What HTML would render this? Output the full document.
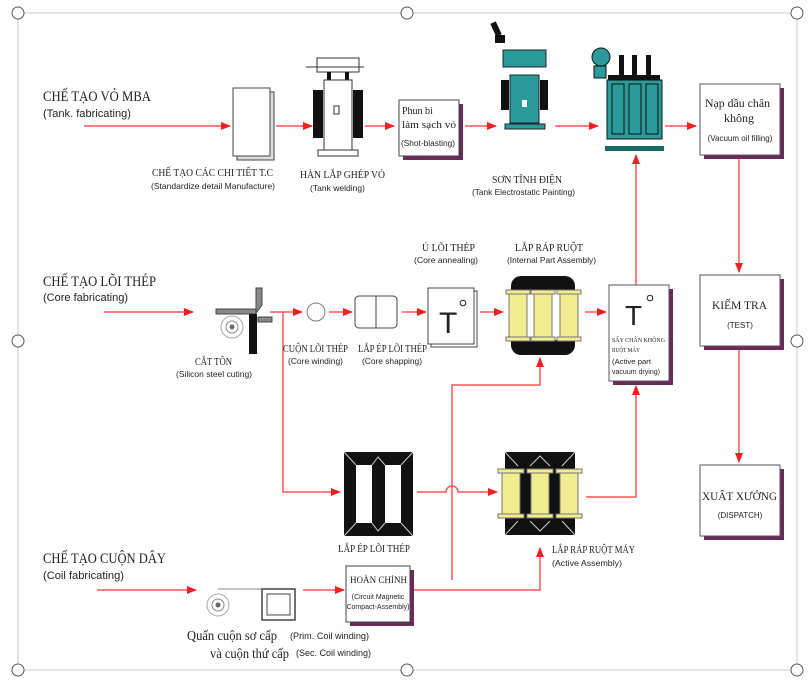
<!DOCTYPE html>
<html><head><meta charset="utf-8"><style>
html,body{margin:0;padding:0;background:#fff;}
svg{display:block;}
.s{font-family:"Liberation Serif","Noto Serif CJK SC",serif;fill:#222;}
.a{font-family:"Liberation Sans","Noto Sans CJK SC",sans-serif;fill:#222;}
</style></head><body>
<svg width="812" height="683" viewBox="0 0 812 683" xmlns="http://www.w3.org/2000/svg">
<defs>
<marker id="ar" markerWidth="10" markerHeight="8" refX="9" refY="4" orient="auto" markerUnits="userSpaceOnUse"><path d="M0,0 L10,4 L0,8 z" fill="#f02020"/></marker>
</defs>
<rect x="18" y="13" width="779" height="657" fill="none" stroke="#c8c8d0" stroke-width="1"/>
<g fill="#fff" stroke="#555" stroke-width="1">
<circle cx="18" cy="13" r="6"/><circle cx="407" cy="13" r="6"/><circle cx="797" cy="13" r="6"/>
<circle cx="18" cy="341" r="6"/><circle cx="797" cy="341" r="6"/>
<circle cx="18" cy="670" r="6"/><circle cx="407" cy="670" r="6"/><circle cx="797" cy="670" r="6"/>
</g>
<g lengthAdjust="spacingAndGlyphs">
<text class="s" x="43" y="101" font-size="15" textLength="108" lengthAdjust="spacingAndGlyphs">CHẾ TẠO VỎ MBA</text>
<text class="a" x="43" y="117" font-size="11" textLength="88" lengthAdjust="spacingAndGlyphs">(Tank. fabricating)</text>
<text class="s" x="43" y="286" font-size="15" textLength="113" lengthAdjust="spacingAndGlyphs">CHẾ TẠO LÕI THÉP</text>
<text class="a" x="43" y="301" font-size="11" textLength="85" lengthAdjust="spacingAndGlyphs">(Core fabricating)</text>
<text class="s" x="43" y="563" font-size="15" textLength="123" lengthAdjust="spacingAndGlyphs">CHẾ TẠO CUỘN DÂY</text>
<text class="a" x="43" y="579" font-size="11" textLength="81" lengthAdjust="spacingAndGlyphs">(Coil fabricating)</text>
</g>

<g stroke="#f55" stroke-width="1.5" fill="none" marker-end="url(#ar)">
<line x1="84" y1="126" x2="230" y2="126"/>
<line x1="276" y1="126" x2="312" y2="126"/>
<line x1="365" y1="126" x2="394" y2="126"/>
<line x1="465" y1="126" x2="496" y2="126"/>
<line x1="555" y1="126" x2="598" y2="126"/>
<line x1="665" y1="126" x2="696" y2="126"/>
<line x1="739" y1="157" x2="739" y2="272"/>
<line x1="739" y1="348" x2="739" y2="462"/>
<line x1="104" y1="312" x2="193" y2="312"/>
<line x1="270" y1="312" x2="302" y2="312"/>
<line x1="329" y1="312" x2="352" y2="312"/>
<line x1="402" y1="312" x2="426" y2="312"/>
<line x1="480" y1="312" x2="503" y2="312"/>
<line x1="585" y1="312" x2="606" y2="312"/>
<polyline points="283,312 283,492 340,492"/>
<line x1="636" y1="285" x2="636" y2="155"/>
<polyline points="586,497 636,497 636,386"/>
<polyline points="452,580 452,385 540,385 540,358"/>
<path d="M417,492 L446,492 A6,6 0 0 1 458,492 L497,492"/>
<line x1="97" y1="590" x2="196" y2="590"/>
<line x1="303" y1="590" x2="344" y2="590"/>
<polyline points="413,590 540,590 540,548"/>
</g>

<rect x="237" y="92" width="37" height="68" fill="#ddd" stroke="#444" stroke-width="1"/>
<rect x="233" y="88" width="37" height="68" fill="#fff" stroke="#444" stroke-width="1"/>
<text class="s" x="152" y="176" font-size="10" textLength="121" lengthAdjust="spacingAndGlyphs">CHẾ TẠO CÁC CHI TIẾT T.C</text>
<text class="a" x="151" y="189" font-size="8.5" textLength="124" lengthAdjust="spacingAndGlyphs">(Standardize detail Manufacture)</text>

<g>
<rect x="317" y="58" width="42" height="14" fill="#fff" stroke="#333"/>
<line x1="306" y1="67" x2="364" y2="67" stroke="#333"/>
<rect x="327" y="72" width="4" height="12" fill="#111"/><rect x="345" y="72" width="4" height="12" fill="#111"/>
<rect x="324" y="80" width="28" height="70" fill="#fff" stroke="#333"/>
<rect x="313" y="90" width="10" height="48" fill="#111"/><rect x="353" y="90" width="10" height="48" fill="#111"/>
<rect x="334" y="106" width="5" height="8" fill="#fff" stroke="#333"/>
<rect x="318" y="150" width="40" height="6" fill="#fff" stroke="#333"/>
</g>
<text class="s" x="300" y="178" font-size="10" textLength="85" lengthAdjust="spacingAndGlyphs">HÀN LẮP GHÉP VỎ</text>
<text class="a" x="310" y="191" font-size="8.5" textLength="55" lengthAdjust="spacingAndGlyphs">(Tank welding)</text>

<rect x="403" y="104" width="60" height="56" fill="#6a2a5a"/>
<rect x="399" y="100" width="60" height="56" fill="#fff" stroke="#444"/>
<text class="s" x="402" y="114" font-size="10">Phun bi</text>
<text class="s" x="402" y="128" font-size="10" textLength="54" lengthAdjust="spacingAndGlyphs">làm sạch vỏ</text>
<text class="a" x="401" y="146" font-size="8" textLength="54" lengthAdjust="spacingAndGlyphs">(Shot-blasting)</text>

<g>
<rect x="493" y="22" width="6" height="14" fill="#111" transform="rotate(-25 496 29)"/>
<rect x="495" y="35" width="10" height="8" fill="#111"/>
<rect x="503" y="50" width="43" height="17" fill="#2a9a9a" stroke="#223"/>
<rect x="510" y="75" width="29" height="48" fill="#2a9a9a" stroke="#223"/>
<rect x="501" y="80" width="8" height="30" fill="#111"/><rect x="540" y="80" width="8" height="30" fill="#111"/>
<rect x="522" y="100" width="5" height="7" fill="#fff"/>
<rect x="505" y="124" width="40" height="5" fill="#2a9a9a" stroke="#223"/>
</g>
<text class="s" x="492" y="183" font-size="10" textLength="70" lengthAdjust="spacingAndGlyphs">SƠN TĨNH ĐIỆN</text>
<text class="a" x="472" y="195" font-size="8.5" textLength="103" lengthAdjust="spacingAndGlyphs">(Tank Electrostatic Painting)</text>

<g>
<circle cx="601" cy="57" r="9" fill="#2a9a9a" stroke="#111"/>
<rect x="594" y="66" width="12" height="12" fill="#2a9a9a" stroke="#111"/>
<rect x="619" y="55" width="5" height="20" fill="#111"/><rect x="632" y="55" width="5" height="20" fill="#111"/><rect x="646" y="55" width="5" height="20" fill="#111"/>
<rect x="608" y="75" width="52" height="5" fill="#111"/>
<rect x="607" y="80" width="55" height="59" fill="#2a9a9a" stroke="#111"/>
<rect x="612" y="84" width="12" height="50" fill="none" stroke="#111"/>
<rect x="629" y="84" width="12" height="50" fill="none" stroke="#111"/>
<rect x="646" y="84" width="12" height="50" fill="none" stroke="#111"/>
<rect x="605" y="146" width="59" height="5" fill="#1a6a6a"/>
</g>

<rect x="704" y="88" width="80" height="71" fill="#6a2a5a"/>
<rect x="700" y="84" width="80" height="71" fill="#fff" stroke="#555"/>
<text class="s" x="705" y="107" font-size="12" textLength="65" lengthAdjust="spacingAndGlyphs">Nạp dầu chân</text>
<text class="s" x="739" y="122" font-size="12" text-anchor="middle">không</text>
<text class="a" x="740" y="141" font-size="8" text-anchor="middle">(Vacuum oil filling)</text>

<rect x="704" y="279" width="80" height="71" fill="#6a2a5a"/>
<rect x="700" y="275" width="80" height="71" fill="#fff" stroke="#555"/>
<text class="s" x="712" y="309" font-size="12" textLength="55" lengthAdjust="spacingAndGlyphs">KIỂM TRA</text>
<text class="a" x="740" y="328" font-size="8" text-anchor="middle">(TEST)</text>

<rect x="704" y="469" width="80" height="71" fill="#6a2a5a"/>
<rect x="700" y="465" width="80" height="71" fill="#fff" stroke="#555"/>
<text class="s" x="702" y="500" font-size="12" textLength="75" lengthAdjust="spacingAndGlyphs">XUẤT XƯỞNG</text>
<text class="a" x="740" y="518" font-size="8" text-anchor="middle">(DISPATCH)</text>

<g>
<circle cx="232" cy="327" r="11" fill="#fff" stroke="#aaa"/><circle cx="232" cy="327" r="6" fill="#fff" stroke="#888"/><circle cx="232" cy="327" r="2.5" fill="#666"/>
<rect x="216" y="309" width="40" height="5" fill="#888" stroke="#444"/>
<path d="M256,288 L262,288 L262,305 L256,313 z" fill="#888" stroke="#444"/>
<rect x="249" y="314" width="8" height="40" fill="#111"/>
<rect x="258" y="317" width="14" height="5" fill="#888" stroke="#444"/>
</g>
<text class="s" x="195" y="365" font-size="10" textLength="37" lengthAdjust="spacingAndGlyphs">CẮT TÔN</text>
<text class="a" x="176" y="377" font-size="8.5" textLength="76" lengthAdjust="spacingAndGlyphs">(Silicon steel cuting)</text>

<circle cx="316" cy="312" r="9" fill="#fff" stroke="#777"/>
<text class="s" x="283" y="352" font-size="10" textLength="65" lengthAdjust="spacingAndGlyphs">CUỘN LÕI THÉP</text>
<text class="a" x="288" y="364" font-size="8.5" textLength="55" lengthAdjust="spacingAndGlyphs">(Core winding)</text>

<rect x="355" y="296" width="42" height="32" rx="4" fill="#fff" stroke="#444"/>
<line x1="376" y1="296" x2="376" y2="328" stroke="#444"/>
<text class="s" x="358" y="352" font-size="10" textLength="69" lengthAdjust="spacingAndGlyphs">LẮP ÉP LÕI THÉP</text>
<text class="a" x="362" y="364" font-size="8.5" textLength="60" lengthAdjust="spacingAndGlyphs">(Core shapping)</text>

<rect x="431" y="291" width="46" height="56" fill="#fff" stroke="#444"/>
<rect x="428" y="288" width="46" height="56" fill="#fff" stroke="#444"/>
<text class="a" x="439" y="333" font-size="30">T</text>
<circle cx="463" cy="303" r="2.8" fill="none" stroke="#222"/>
<text class="s" x="422" y="251" font-size="10" textLength="53" lengthAdjust="spacingAndGlyphs">Ủ LÕI THÉP</text>
<text class="a" x="414" y="263" font-size="8.5" textLength="64" lengthAdjust="spacingAndGlyphs">(Core annealing)</text>

<g>
<rect x="511" y="276" width="64" height="79" rx="10" fill="#111"/>
<rect x="520" y="290" width="15" height="50" fill="#fff"/><rect x="551" y="290" width="15" height="50" fill="#fff"/>
<g fill="#f0ee90" stroke="#777">
<rect x="506" y="290" width="24" height="4"/><rect x="506" y="337" width="24" height="4"/><rect x="509" y="294" width="18" height="43"/>
<rect x="531" y="290" width="24" height="4"/><rect x="531" y="337" width="24" height="4"/><rect x="534" y="294" width="18" height="43"/>
<rect x="557" y="290" width="24" height="4"/><rect x="557" y="337" width="24" height="4"/><rect x="560" y="294" width="18" height="43"/>
</g>
</g>
<text class="s" x="515" y="251" font-size="10" textLength="68" lengthAdjust="spacingAndGlyphs">LẮP RÁP RUỘT</text>
<text class="a" x="507" y="263" font-size="8.5" textLength="89" lengthAdjust="spacingAndGlyphs">(Internal Part Assembly)</text>

<rect x="613" y="289" width="60" height="96" fill="#6a2a5a"/>
<rect x="609" y="285" width="60" height="96" fill="#fff" stroke="#555"/>
<text class="a" x="625" y="325" font-size="28">T</text>
<circle cx="650" cy="298" r="2.8" fill="none" stroke="#222"/>
<text class="s" x="612" y="342" font-size="6.5" textLength="53" lengthAdjust="spacingAndGlyphs">SẤY CHÂN KHÔNG</text>
<text class="s" x="612" y="352" font-size="6.5" textLength="28" lengthAdjust="spacingAndGlyphs">RUỘT MÁY</text>
<text class="a" x="612" y="364" font-size="7" textLength="39" lengthAdjust="spacingAndGlyphs">(Active part</text>
<text class="a" x="612" y="374" font-size="7" textLength="48" lengthAdjust="spacingAndGlyphs">vacuum drying)</text>

<g>
<rect x="344" y="452" width="69" height="84" fill="#111"/>
<path d="M344,452 L356,465 M413,452 L401,465 M344,536 L356,523 M413,536 L401,523" stroke="#ccc"/>
<rect x="356" y="465" width="16" height="58" fill="#fff"/>
<rect x="385" y="465" width="16" height="58" fill="#fff"/>
<path d="M372,465 L378,457 L385,465 M372,523 L378,531 L385,523" stroke="#ccc" fill="none"/>
</g>
<text class="s" x="338" y="552" font-size="10" textLength="72" lengthAdjust="spacingAndGlyphs">LẮP ÉP LÕI THÉP</text>

<g>
<rect x="505" y="452" width="70" height="83" fill="#111"/>
<path d="M505,452 L518,466 M575,452 L562,466 M505,535 L518,521 M575,535 L562,521 M530,466 L540,456 L550,466 M530,521 L540,531 L550,521" stroke="#ccc" fill="none"/>
<g fill="#f0ee90" stroke="#777">
<rect x="498" y="469" width="26" height="4"/><rect x="498" y="514" width="26" height="4"/><rect x="502" y="473" width="18" height="41"/>
<rect x="527" y="469" width="26" height="4"/><rect x="527" y="514" width="26" height="4"/><rect x="531" y="473" width="18" height="41"/>
<rect x="556" y="469" width="26" height="4"/><rect x="556" y="514" width="26" height="4"/><rect x="560" y="473" width="18" height="41"/>
</g>
</g>
<text class="s" x="552" y="553" font-size="10" textLength="83" lengthAdjust="spacingAndGlyphs">LẮP RÁP RUỘT MÁY</text>
<text class="a" x="552" y="566" font-size="8.5" textLength="70" lengthAdjust="spacingAndGlyphs">(Active Assembly)</text>

<rect x="350" y="570" width="64" height="56" fill="#6a2a5a"/>
<rect x="346" y="566" width="64" height="56" fill="#fff" stroke="#444"/>
<text class="s" x="350" y="583" font-size="9.5" textLength="57" lengthAdjust="spacingAndGlyphs">HOÀN CHỈNH</text>
<text class="a" x="378" y="599" font-size="7" text-anchor="middle">(Circuit Magnetic</text>
<text class="a" x="378" y="609" font-size="7" text-anchor="middle">Compact-Assembly)</text>

<circle cx="218" cy="605" r="11" fill="#fff" stroke="#aaa"/><circle cx="218" cy="605" r="6" fill="#fff" stroke="#888"/><circle cx="218" cy="605" r="2.5" fill="#666"/>
<line x1="218" y1="589" x2="295" y2="589" stroke="#888"/>
<rect x="262" y="589" width="33" height="31" fill="#fff" stroke="#444" stroke-width="1.5"/>
<rect x="267" y="594" width="23" height="21" fill="#fff" stroke="#444"/>
<text class="s" x="187" y="640" font-size="13.5" textLength="90" lengthAdjust="spacingAndGlyphs">Quấn cuộn sơ cấp</text>
<text class="s" x="210" y="658" font-size="13.5" textLength="79" lengthAdjust="spacingAndGlyphs">và cuộn thứ cấp</text>
<text class="a" x="290" y="639" font-size="9" textLength="79" lengthAdjust="spacingAndGlyphs">(Prim. Coil winding)</text>
<text class="a" x="296" y="656" font-size="9" textLength="75" lengthAdjust="spacingAndGlyphs">(Sec. Coil winding)</text>
</svg>
</body></html>
